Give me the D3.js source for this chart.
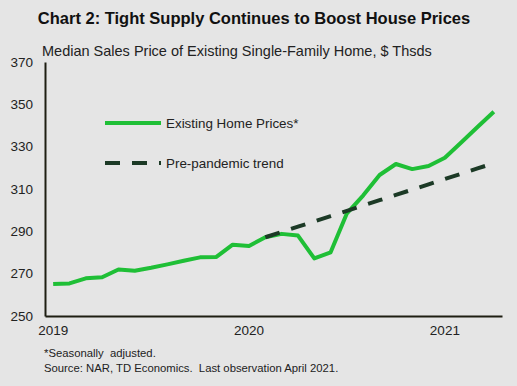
<!DOCTYPE html>
<html>
<head>
<meta charset="utf-8">
<script src="https://cdn.jsdelivr.net/npm/d3@7"></script>
<style>
  body { margin: 0; background: #e5e5e5; }
  svg { display: block; font-family: "Liberation Sans", Arial, sans-serif; }
</style>
</head>
<body>
<div class="grafico"></div>
<script>
const width = 517, height = 386;

// monthly, Jan 2019 .. Apr 2021
const months = ["2019-01", "2019-02", "2019-03", "2019-04", "2019-05", "2019-06",
  "2019-07", "2019-08", "2019-09", "2019-10", "2019-11", "2019-12",
  "2020-01", "2020-02", "2020-03", "2020-04", "2020-05", "2020-06",
  "2020-07", "2020-08", "2020-09", "2020-10", "2020-11", "2020-12",
  "2021-01", "2021-02", "2021-03", "2021-04"];
const prices = [265.1, 265.4, 267.8, 268.3, 272.0, 271.4, 272.8, 274.4, 276.1, 277.7,
  277.9, 283.7, 283.1, 287.2, 288.8, 288.0, 277.2, 280.1, 298.5, 307.0,
  316.6, 321.8, 319.4, 320.9, 324.8, 332.0, 339.3, 346.5];
const trendMonths = months.slice(13);
const trend = [287.2, 289.7, 292.2, 294.7, 297.2, 299.7, 302.2, 304.7,
  307.2, 309.7, 312.2, 314.7, 317.2, 319.7, 322.2];
const yTicks = [250, 270, 290, 310, 330, 350, 370];
const yearTicks = ["2019-01", "2020-01", "2021-01"];

const green = "#1fbf36", dark = "#1c3a26", axisCol = "#1e1e12";
const margin = { left: 45, right: 15, top: 62, bottom: 70 };

const svg = d3.select(".grafico")
  .append("svg")
  .attr("width", width)
  .attr("height", height);

svg.append("rect").attr("width", width).attr("height", height).attr("fill", "#e5e5e5");

const x = d3.scaleBand()
  .domain(months)
  .range([margin.left, width - margin.right]);
const xc = d => x(d) + x.bandwidth() / 2;

const y = d3.scaleLinear()
  .domain([250, 370])
  .range([height - margin.bottom, margin.top]);

// title + subtitle
svg.append("text")
  .attr("x", 254).attr("y", 24)
  .attr("text-anchor", "middle")
  .attr("font-size", 16.5).attr("font-weight", "bold")
  .attr("fill", "#111")
  .text("Chart 2: Tight Supply Continues to Boost House Prices");

svg.append("text")
  .attr("x", 42).attr("y", 56)
  .attr("font-size", 14.5).attr("fill", "#222")
  .text("Median Sales Price of Existing Single-Family Home, $ Thsds");

// axes
const yAxis = svg.append("g")
  .attr("transform", `translate(${margin.left},0)`)
  .call(d3.axisLeft(y).tickValues(yTicks).tickSize(0).tickPadding(12));
yAxis.select(".domain").attr("stroke", axisCol).attr("stroke-width", 2);
yAxis.selectAll("text").attr("font-size", 13.5).attr("fill", "#222")
  .attr("font-family", "Liberation Sans, Arial, sans-serif");

const xAxis = svg.append("g")
  .attr("transform", `translate(0,${height - margin.bottom})`)
  .call(d3.axisBottom(x).tickValues(yearTicks).tickSize(0).tickPadding(9)
    .tickFormat(d => d.slice(0, 4)));
xAxis.select(".domain").attr("stroke", axisCol).attr("stroke-width", 2);
xAxis.selectAll("text").attr("font-size", 13.5).attr("fill", "#222")
  .attr("font-family", "Liberation Sans, Arial, sans-serif");

// series
const line = d3.line()
  .x(d => xc(d[0]))
  .y(d => y(d[1]));

svg.append("path")
  .datum(d3.zip(months, prices))
  .attr("fill", "none")
  .attr("stroke", green)
  .attr("stroke-width", 4)
  .attr("stroke-linejoin", "round")
  .attr("d", line);

svg.append("path")
  .datum(d3.zip(trendMonths, trend))
  .attr("fill", "none")
  .attr("stroke", dark)
  .attr("stroke-width", 4)
  .attr("stroke-dasharray", "15,12")
  .attr("d", line);

// legend
const legend = [
  { label: "Existing Home Prices*", color: green, dash: null },
  { label: "Pre-pandemic trend", color: dark, dash: "15,12" }
];
const lg = svg.selectAll(".leg")
  .data(legend)
  .enter().append("g")
  .attr("transform", (d, i) => `translate(105,${123 + i * 40})`);
lg.append("line")
  .attr("x1", 0).attr("x2", 56)
  .attr("stroke", d => d.color)
  .attr("stroke-width", 4)
  .attr("stroke-dasharray", d => d.dash);
lg.append("text")
  .attr("x", 61).attr("y", 5)
  .attr("font-size", 13.4).attr("fill", "#222")
  .text(d => d.label);

// notes
const notes = ["*Seasonally  adjusted.", "Source: NAR, TD Economics.  Last observation April 2021."];
svg.selectAll(".note")
  .data(notes)
  .enter().append("text")
  .attr("x", 44)
  .attr("y", (d, i) => 357 + i * 15)
  .attr("font-size", 11.3).attr("fill", "#222")
  .attr("xml:space", "preserve")
  .style("white-space", "pre")
  .text(d => d);
</script>
</body>
</html>
